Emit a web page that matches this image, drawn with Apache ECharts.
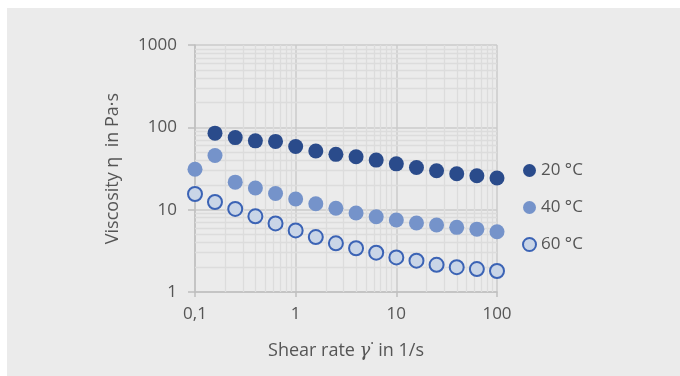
<!DOCTYPE html>
<html>
<head>
<meta charset="utf-8">
<script src="https://cdn.jsdelivr.net/npm/echarts@6/dist/echarts.min.js"></script>
<style>
html,body{margin:0;padding:0;background:#fff;}
#c{position:absolute;left:7px;top:8px;width:673px;height:368px;background:#ebebeb;}
#chart{position:absolute;left:0;top:0;width:680px;height:376px;}
</style>
</head>
<body>
<div id="c"></div>
<div id="chart"></div>
<script>
// Shear rates (1/s)
const shearRates = [0.1, 0.158, 0.251, 0.398, 0.631, 1, 1.585, 2.51, 3.98, 6.31, 10, 15.85, 25.1, 39.8, 63.1, 100];
const seriesNames = ['20 °C', '40 °C', '60 °C'];
// Viscosity (Pa·s); null = no point
const visc20 = [null, 85, 75, 68.5, 67.5, 58.5, 51.5, 47, 44, 40, 36, 32.5, 29.7, 27.3, 25.8, 24.2];
const visc40 = [31, 45.5, 21.6, 18.3, 15.7, 13.5, 11.8, 10.4, 9.1, 8.2, 7.5, 6.9, 6.5, 6.1, 5.8, 5.4];
const visc60 = [15.5, 12.4, 10.2, 8.3, 6.8, 5.6, 4.65, 3.9, 3.4, 3.0, 2.63, 2.4, 2.14, 2.0, 1.9, 1.8];
const xTickLabels = {0.1: '0,1', 1: '1', 10: '10', 100: '100'};
const yTickLabels = {1: '1', 10: '10', 100: '100', 1000: '1000'};
const xMinorGrid = [0.2,0.3,0.4,0.5,0.6,0.7,0.8,0.9,2,3,4,5,6,7,8,9,20,30,40,50,60,70,80,90];
const yMinorGrid = [2,3,4,5,6,7,8,9,20,30,40,50,60,70,80,90,200,300,400,500,600,700,800,900];

const FONT = 'Open Sans';
const TXT = '#555555';

function pairs(vals){
  const out = [];
  vals.forEach((v,i)=>{ if (v != null) out.push([shearRates[i], v]); });
  return out;
}

const minorLines = xMinorGrid.map(v=>({xAxis:v})).concat(yMinorGrid.map(v=>({yAxis:v})));

const chart = echarts.init(document.getElementById('chart'), null, {renderer:'canvas'});
chart.setOption({
  animation:false,
  backgroundColor:'transparent',
  textStyle:{fontFamily:FONT},
  grid:{left:195, right:183, top:45, bottom:84},
  legend:{
    orient:'vertical',
    left:522, top:160, padding:0,
    itemWidth:13, itemHeight:13, itemGap:16,
    icon:'circle',
    data:seriesNames,
    textStyle:{fontFamily:FONT, fontSize:17, color:TXT, lineHeight:21}
  },
  xAxis:{
    type:'log', logBase:10, min:0.1, max:100,
    name:'Shear rate {g|γ}˙ in 1/s',
    nameLocation:'middle', nameGap:50,
    nameTextStyle:{fontFamily:FONT, fontSize:18, color:TXT,
      rich:{g:{fontFamily:'DejaVu Serif', fontStyle:'italic', fontSize:18, color:TXT}}},
    axisLine:{show:true, lineStyle:{color:'#bfbfbf', width:1.5}},
    axisTick:{show:true, length:5, lineStyle:{color:'#bfbfbf', width:1.5}},
    axisLabel:{fontFamily:FONT, fontSize:17, color:TXT, margin:14,
      formatter:v=>xTickLabels[Math.round(v*10)/10] ?? ''},
    splitLine:{show:true, lineStyle:{color:'#cbcbcb', width:1.5}}
  },
  yAxis:{
    type:'log', logBase:10, min:1, max:1000,
    name:'Viscosity η  in Pa·s',
    nameLocation:'middle', nameGap:73, nameRotate:90,
    nameTextStyle:{fontFamily:FONT, fontSize:18, color:TXT},
    axisLine:{show:true, lineStyle:{color:'#bfbfbf', width:1.5}},
    axisTick:{show:true, length:7, lineStyle:{color:'#bfbfbf', width:1.5}},
    axisLabel:{fontFamily:FONT, fontSize:17, color:TXT, margin:18,
      formatter:v=>yTickLabels[Math.round(v)] ?? ''},
    splitLine:{show:true, lineStyle:{color:'#cbcbcb', width:1.5}}
  },
  series:[
    {
      name:'grid-minor', type:'line', data:[], silent:true, z:0,
      markLine:{silent:true, symbol:['none','none'], label:{show:false},
        lineStyle:{color:'#dcdcdc', width:1.3, type:'solid'}, data:minorLines, animation:false}
    },
    {
      name:seriesNames[0], type:'scatter', data:pairs(visc20), symbol:'circle', symbolSize:15, z:5,
      itemStyle:{color:'#2a4b8b', opacity:1}
    },
    {
      name:seriesNames[1], type:'scatter', data:pairs(visc40), symbol:'circle', symbolSize:15, z:5,
      itemStyle:{color:'#7593ca', opacity:1}
    },
    {
      name:seriesNames[2], type:'scatter', data:pairs(visc60), symbol:'circle', symbolSize:14, z:5,
      itemStyle:{color:'#c9d5e7', borderColor:'#3b63b5', borderWidth:2, opacity:1}
    }
  ]
});
</script>
</body>
</html>
